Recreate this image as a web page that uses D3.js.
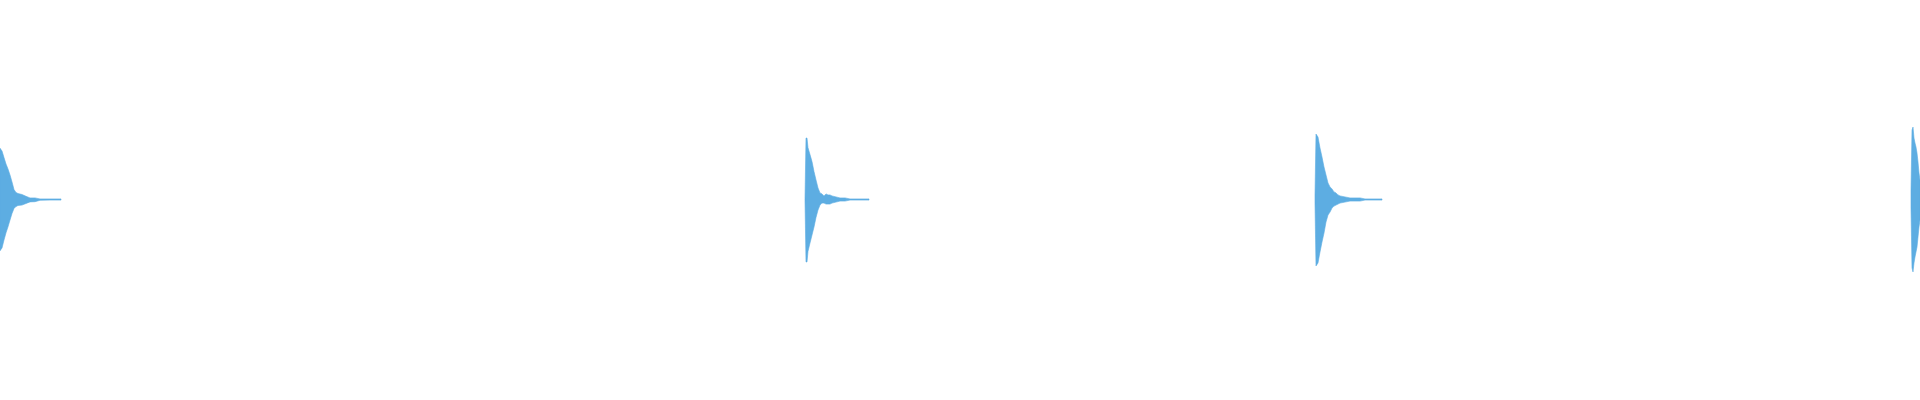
<!DOCTYPE html>
<html>
<head>
<meta charset="utf-8">
<script src="https://cdn.jsdelivr.net/npm/d3@7"></script>
<style>
html,body{margin:0;padding:0;background:#fff;overflow:hidden;}
svg{display:block;}
</style>
</head>
<body>
<svg id="chart" width="1920" height="400"></svg>
<script>
// Burst 1
const burst1Time = [0,2,4,6,8,10,12,14,16,18,22,26,30,35,40,50,61];
const burst1Max  = [0.257,0.243,0.21,0.178,0.153,0.123,0.088,0.05,0.035,0.03,0.025,0.016,0.008,0.008,0.003,0.003,0.003];
const burst1Min  = [-0.257,-0.243,-0.203,-0.167,-0.137,-0.103,-0.07,-0.045,-0.035,-0.03,-0.028,-0.02,-0.012,-0.011,-0.004,-0.003,-0.003];
// Burst 2
const burst2Time = [805,806,807,808,810,812,814,816,818,820,822,824,826,828,830,832,836,840,845,850,855,869];
const burst2Max  = [0.004,0.308,0.308,0.26,0.225,0.19,0.14,0.098,0.058,0.033,0.028,0.018,0.028,0.023,0.023,0.018,0.013,0.008,0.008,0.003,0.003,0.003];
const burst2Min  = [-0.004,-0.313,-0.313,-0.26,-0.218,-0.178,-0.138,-0.09,-0.053,-0.028,-0.018,-0.018,-0.023,-0.023,-0.023,-0.018,-0.013,-0.008,-0.008,-0.003,-0.003,-0.003];
// Burst 3
const burst3Time = [1315,1316,1318,1320,1322,1324,1326,1328,1330,1332,1334,1336,1338,1340,1345,1350,1355,1360,1365,1370,1382];
const burst3Max  = [0.023,0.328,0.313,0.258,0.213,0.163,0.123,0.083,0.063,0.053,0.038,0.033,0.023,0.018,0.013,0.008,0.008,0.008,0.003,0.003,0.003];
const burst3Min  = [-0.018,-0.333,-0.318,-0.263,-0.213,-0.168,-0.113,-0.078,-0.063,-0.043,-0.033,-0.028,-0.023,-0.018,-0.013,-0.008,-0.008,-0.008,-0.003,-0.003,-0.003];
// Burst 4
const burst4Time = [1911,1912,1913,1914,1915,1916,1917,1918,1919,1920];
const burst4Max  = [0.048,0.348,0.363,0.308,0.283,0.263,0.233,0.188,0.133,0.098];
const burst4Min  = [-0.043,-0.343,-0.363,-0.318,-0.288,-0.263,-0.238,-0.188,-0.138,-0.103];

const bursts = [
  {t: burst1Time, hi: burst1Max, lo: burst1Min},
  {t: burst2Time, hi: burst2Max, lo: burst2Min},
  {t: burst3Time, hi: burst3Max, lo: burst3Min},
  {t: burst4Time, hi: burst4Max, lo: burst4Min}
];

const W = 1920, H = 400;
const svg = d3.select("#chart");
const x = d3.scaleLinear().domain([0, 1920]).range([0, W]);
const y = d3.scaleLinear().domain([-1, 1]).range([399, 0]);

const area = d3.area()
  .x(d => x(d.t))
  .y0(d => y(d.lo))
  .y1(d => y(d.hi))
  .curve(d3.curveLinear);

bursts.forEach(b => {
  const pts = b.t.map((t, i) => ({t: t, hi: b.hi[i], lo: b.lo[i]}));
  svg.append("path")
    .datum(pts)
    .attr("d", area)
    .attr("fill", "#5dade2")
    .attr("stroke", "#5dade2")
    .attr("stroke-width", 0.6);
});
</script>
</body>
</html>
